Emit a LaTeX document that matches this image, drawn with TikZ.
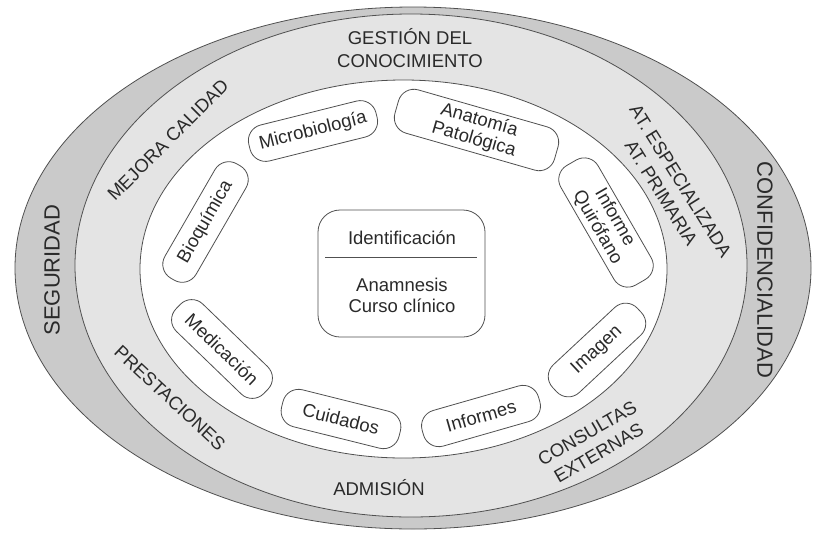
\documentclass[tikz,border=0pt]{standalone}
\usepackage{fontspec}
\setmainfont{Liberation Sans}
\usetikzlibrary{calc}
\definecolor{outerband}{HTML}{CACACA}
\definecolor{midband}{HTML}{E4E4E4}
\definecolor{edge}{HTML}{505050}
\definecolor{ink}{HTML}{2A2A2A}
\begin{document}
\begin{tikzpicture}[x=1pt,y=1pt,
  pill/.style={draw=edge, line width=0.8pt, rounded corners=16pt, fill=white,
    text=ink, font=\fontsize{18.5}{20}\selectfont, align=center, inner sep=0pt,
    minimum height=37pt},
  bandlbl/.style={text=ink, font=\fontsize{18.5}{23}\selectfont, align=center, inner sep=0pt},
  outerlbl/.style={text=ink, font=\fontsize{22}{26}\selectfont, inner sep=0pt},
  boxtxt/.style={text=ink, font=\fontsize{18.5}{21}\selectfont, align=center, inner sep=0pt}]
\useasboundingbox (0,0) rectangle (816,-533);
% rings
\filldraw[fill=outerband, draw=edge, line width=0.8pt] (413,-268) ellipse [x radius=398, y radius=261];
\filldraw[fill=midband, draw=edge, line width=0.8pt] (411,-265.5) ellipse [x radius=336, y radius=251.5];
\filldraw[fill=white, draw=edge, line width=0.8pt] (403.5,-269) ellipse [x radius=263.5, y radius=189];
% outer labels
\node[outerlbl, rotate=90] (seg) at (52,-270) {SEGURIDAD};
\node[outerlbl, rotate=-90] (conf) at (765,-270) {CONFIDENCIALIDAD};
% middle band labels
\node[bandlbl] (gest) at (410,-48.5) {GESTIÓN DEL\\CONOCIMIENTO};
\node[bandlbl] (adm) at (379,-488) {ADMISIÓN};
\node[bandlbl, rotate=45] (mej) at (168,-140) {MEJORA CALIDAD};
\node[bandlbl, rotate=-43] (prest) at (170,-398) {PRESTACIONES};
\node[bandlbl, rotate=30] (cons) at (593,-443) {CONSULTAS\\EXTERNAS};
\node[bandlbl, rotate=-58] (at) at (671,-187) {AT. ESPECIALIZADA\\AT. PRIMARIA};
% pills
\node[pill, rotate=14, minimum width=131pt] (micro) at (313,-131) {Microbiología};
\node[pill, rotate=-16, minimum width=166pt, minimum height=45pt] (anat) at (476.5,-130) {Anatomía\\Patológica};
\node[pill, rotate=-60, minimum width=138pt, minimum height=43pt] (quir) at (606,-222.5) {Informe\\Quirófano};
\node[pill, rotate=43, minimum width=116pt, minimum height=38pt] (imag) at (597,-350) {Imagen};
\node[pill, rotate=16, minimum width=121pt] (infs) at (481,-416) {Informes};
\node[pill, rotate=-14, minimum width=121pt, minimum height=38pt] (cuid) at (341,-419) {Cuidados};
\node[pill, rotate=-44, minimum width=122pt, minimum height=38pt] (medic) at (222,-349) {Medicación};
\node[pill, rotate=60, minimum width=132pt, minimum height=36pt] (bioq) at (205.5,-222) {Bioquímica};
% center box
\node[draw=edge, line width=0.8pt, rounded corners=22pt, fill=white,
  minimum width=167pt, minimum height=127pt, inner sep=0pt] (box) at (401.5,-273.5) {};
\node[boxtxt] (ident) at (402,-238) {Identificación};
\node[boxtxt] (anam) at (402,-295.5) {Anamnesis\\Curso clínico};
\coordinate (divL) at (325,-257);
\coordinate (divR) at (477,-257);
\draw[edge, line width=0.8pt] (divL) -- (divR);
\end{tikzpicture}
\end{document}
